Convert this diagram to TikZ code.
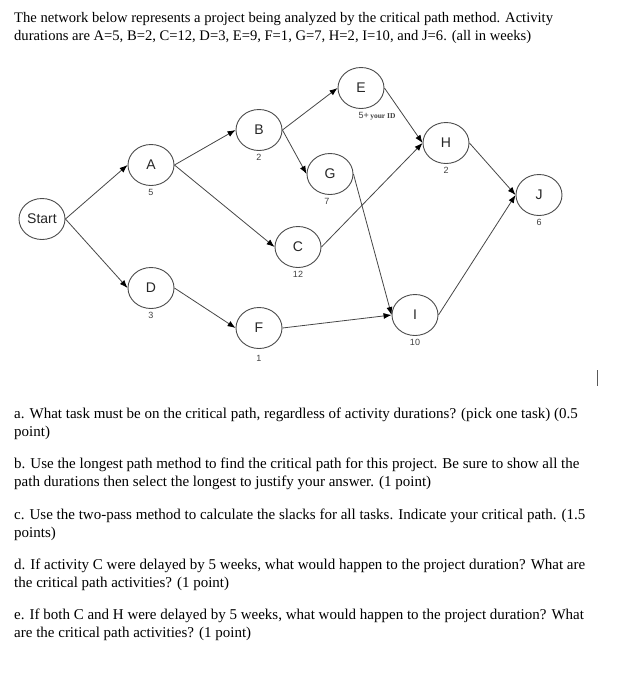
\documentclass[tikz,border=0pt]{standalone}
\usepackage{fontspec}
\setmainfont{Liberation Serif}
\setsansfont{Liberation Sans}
\usetikzlibrary{shapes.geometric,arrows.meta}

\tikzset{
  task/.style={draw=gray!60!black, line width=0.9pt, ellipse, minimum width=46pt, minimum height=41pt,
    inner sep=1pt, font=\sffamily\fontsize{14}{14}\selectfont, text=black!85},
  every label/.style={font=\sffamily\fontsize{9}{9}\selectfont, inner sep=0pt, text=black!75},
  link/.style={draw=gray!55!black, line width=0.8pt, -{Latex[length=8pt,width=6pt,black]}},
  para/.style={anchor=north west, align=left, inner sep=0pt, font=\fontsize{15}{18}\selectfont},
}

\begin{document}
\begin{tikzpicture}[x=1pt,y=-1pt,label distance=3.5pt]
    \useasboundingbox (0,0) rectangle (622,681);
    % problem statement
    \node[para, font=\fontsize{14.6}{18}\selectfont] (intro) at (14,12) {The network below represents a project being analyzed by the critical path method. Activity\\
      durations are A=5, B=2, C=12, D=3, E=9, F=1, G=7, H=2, I=10, and J=6. (all in weeks)};
    % the activity network
    \node[task] (Start) at (42,219) {Start};
    \node[task, label=below:5] (A) at (151,165) {A};
    \node[task, label=below:2] (B) at (259,130) {B};
    \node[task, label={[xshift=16pt]below:{5+\,{\rmfamily\bfseries\fontsize{7.5}{7.5}\selectfont your ID}}}] (E) at (361,88) {E};
    \node[task, label={[xshift=-3pt]below:7}] (G) at (330,174) {G};
    \node[task, label=below:12] (C) at (298,247) {C};
    \node[task, label=below:2] (H) at (446,143) {H};
    \node[task, label=below:6] (J) at (539,195) {J};
    \node[task, label=below:3] (D) at (151,288) {D};
    \node[task, label={[label distance=6.5pt]below:1}] (F) at (259,328) {F};
    \node[task, label=below:10] (I) at (415,315) {I};
    \foreach \from/\to in {Start/A,Start/D,A/B,A/C,B/E,B/G,E/H,G/I,C/H,H/J,D/F,F/I,I/J}
      \draw[link] (\from.east) -- (\to.west);
    \draw[gray!70!black] (597,370) -- (597,386);% text cursor
    % questions
    \node[para] (qa) at (14,407.5) {a. What task must be on the critical path, regardless of activity durations? (pick one task) (0.5\\
      point)};
    \node[para] (qb) at (14,457.5) {b. Use the longest path method to find the critical path for this project. Be sure to show all the\\
      path durations then select the longest to justify your answer. (1 point)};
    \node[para] (qc) at (14,508.5) {c. Use the two-pass method to calculate the slacks for all tasks. Indicate your critical path. (1.5\\
      points)};
    \node[para] (qd) at (14,558.5) {d. If activity C were delayed by 5 weeks, what would happen to the project duration? What are\\
      the critical path activities? (1 point)};
    \node[para] (qe) at (14,608.5) {e. If both C and H were delayed by 5 weeks, what would happen to the project duration? What\\
      are the critical path activities? (1 point)};
\end{tikzpicture}
\end{document}
